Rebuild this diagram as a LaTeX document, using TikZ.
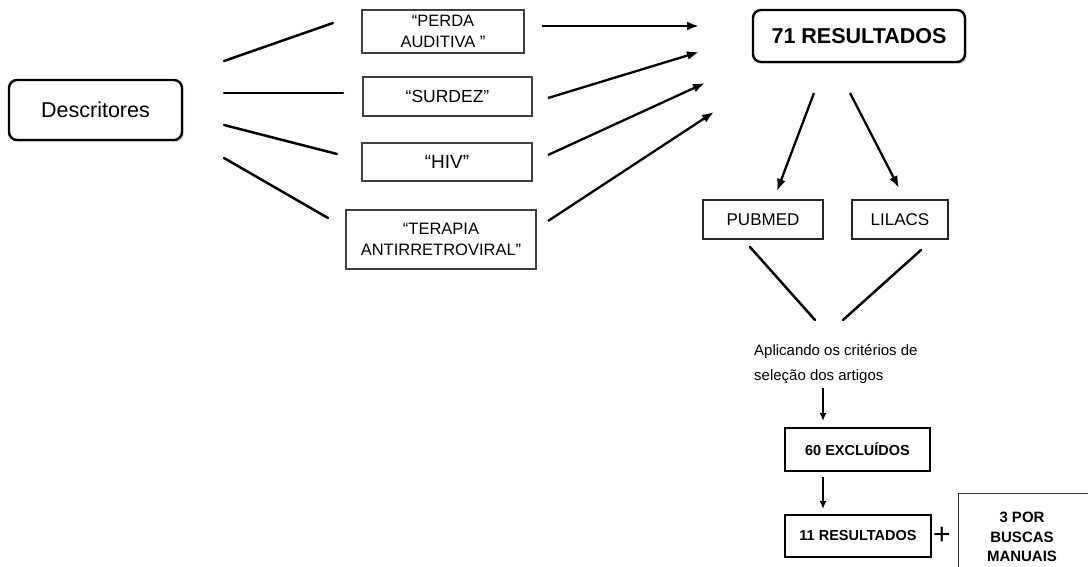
\documentclass[tikz,border=0pt]{standalone}
\usepackage{fontspec}
\setmainfont{Liberation Sans}
\usetikzlibrary{arrows.meta,shadows}
\newcommand{\fs}[2]{\fontsize{#1}{#2}\selectfont}
\tikzset{
  bigbox/.style={draw=black, line width=2.4pt, rounded corners=8pt, fill=white,
    drop shadow={shadow xshift=2pt, shadow yshift=-2pt, opacity=0.25},
    inner sep=0pt, align=center},
  termbox/.style={draw=black!75, line width=1.4pt, inner sep=0pt, align=center, font=\fs{16.5}{21}},
  dbbox/.style={draw=black!85, line width=1.7pt, inner sep=0pt, align=center, font=\fs{17}{20}},
  resbox/.style={draw=black, line width=2.6pt, inner sep=0pt, align=center, font=\bfseries\fs{14.5}{18}},
  plainline/.style={line width=2.5pt, line cap=round},
  arr/.style={line width=2.3pt, -{Latex[length=12pt,width=9pt]}},
  arrs/.style={line width=1.8pt, -{Latex[length=8pt,width=7pt]}}
}
\begin{document}
\begin{tikzpicture}[x=1pt,y=-1pt]
\clip (0,0) rectangle (1088,567);
\fill[white] (0,0) rectangle (1088,567);

% main nodes
\node[bigbox, minimum width=173pt, minimum height=60pt, font=\fs{21.5}{24}] (desc) at (95.5,110) {Descritores};
\node[termbox, minimum width=162pt, minimum height=43pt] (perda) at (443,31.5) {“PERDA\\AUDITIVA ”};
\node[termbox, minimum width=169pt, minimum height=39pt, font=\fs{17.5}{21}] (surdez) at (447.5,96.5) {“SURDEZ”};
\node[termbox, minimum width=170pt, minimum height=38pt, font=\fs{19}{22}] (hiv) at (447,162) {“HIV”};
\node[termbox, minimum width=190pt, minimum height=59pt] (tarv) at (441,239.5) {“TERAPIA\\ANTIRRETROVIRAL”};
\node[bigbox, minimum width=212pt, minimum height=52pt, font=\bfseries\fs{21.5}{24}] (res71) at (859,36) {71 RESULTADOS};
\node[dbbox, minimum width=120pt, minimum height=39pt] (pubmed) at (763,219.5) {PUBMED};
\node[dbbox, minimum width=96pt, minimum height=39pt] (lilacs) at (900,219.5) {LILACS};
\node[anchor=north west, align=left, inner sep=0pt, font=\fs{15}{25}] (crit) at (754,344) {Aplicando os critérios de\\seleção dos artigos};
\node[resbox, minimum width=145pt, minimum height=43pt] (exc) at (857.5,449.5) {60 EXCLUÍDOS};
\node[resbox, minimum width=146pt, minimum height=42pt] (res11) at (858,536) {11 RESULTADOS};
\node[inner sep=0pt, font=\fs{30}{30}] (plus) at (942,536) {+};
\node[draw=black!80, line width=1.3pt, anchor=north west, minimum width=160pt, minimum height=100pt, inner sep=0pt] (manbox) at (958,493) {};
\node[inner sep=0pt, align=center, font=\bfseries\fs{15}{19.5}] (man) at (1022,537) {3 POR\\BUSCAS\\MANUAIS};

% free line end points
\coordinate (d1a) at (224,61);  \coordinate (d1b) at (333,23);
\coordinate (d2a) at (224,93);  \coordinate (d2b) at (343,93);
\coordinate (d3a) at (224,125); \coordinate (d3b) at (337,154);
\coordinate (d4a) at (224,158); \coordinate (d4b) at (328,218);
\coordinate (a1a) at (542,26);  \coordinate (a1b) at (699,26);
\coordinate (a2a) at (548,98);  \coordinate (a2b) at (699,52);
\coordinate (a3a) at (548,155); \coordinate (a3b) at (705,83);
\coordinate (a4a) at (548,221); \coordinate (a4b) at (714,112);
\coordinate (r1a) at (814,93);  \coordinate (r1b) at (777,191);
\coordinate (r2a) at (850,93);  \coordinate (r2b) at (899,188);
\coordinate (p1a) at (750,247); \coordinate (p1b) at (815,320);
\coordinate (p2a) at (921,250); \coordinate (p2b) at (843,320);
\coordinate (c1a) at (823,388); \coordinate (c1b) at (823,421);
\coordinate (c2a) at (823,477); \coordinate (c2b) at (823,509);

\foreach \i in {1,2,3,4} \draw[plainline] (d\i a) -- (d\i b);
\foreach \i in {1,2,3,4} \draw[arr] (a\i a) -- (a\i b);
\draw[arr] (r1a) -- (r1b);
\draw[arr] (r2a) -- (r2b);
\draw[plainline] (p1a) -- (p1b);
\draw[plainline] (p2a) -- (p2b);
\draw[arrs] (c1a) -- (c1b);
\draw[arrs] (c2a) -- (c2b);
\end{tikzpicture}
\end{document}
